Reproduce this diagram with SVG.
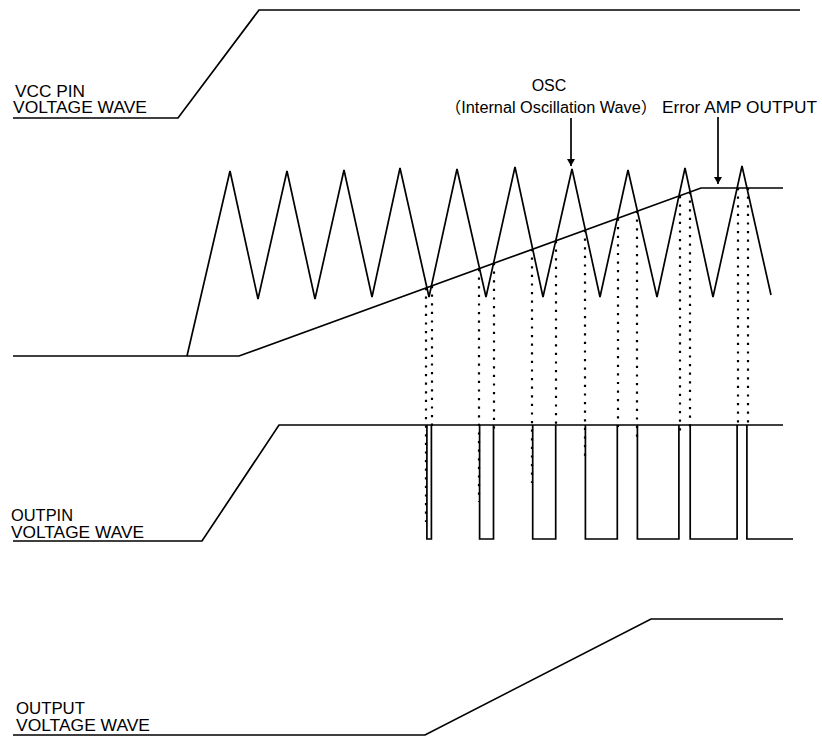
<svg xmlns="http://www.w3.org/2000/svg" width="822" height="736" viewBox="0 0 822 736">
<style>
.w{fill:none;stroke:#000;stroke-width:1.7;stroke-linejoin:miter}
.d{fill:none;stroke:#000;stroke-width:2.2;stroke-dasharray:2.2 6.4}
.t{font-family:"Liberation Sans",Arial,"Noto Sans CJK JP",sans-serif;font-size:16px;fill:#000}
</style>
<defs>
<marker id="ah" markerWidth="8" markerHeight="8" refX="7" refY="4" orient="auto" markerUnits="userSpaceOnUse" viewBox="0 0 8 8">
<path d="M0,0 L7,4 L0,8 Z" fill="#000"/>
</marker>
</defs>
<rect width="822" height="736" fill="#fff"/>
<g id="vcc">
<path class="w" d="M13,118 L178,118 L259,10 L800,10"/>
<text class="t" x="15" y="97" textLength="70" lengthAdjust="spacingAndGlyphs">VCC PIN</text>
<text class="t" x="13" y="113" textLength="134" lengthAdjust="spacingAndGlyphs">VOLTAGE WAVE</text>
</g>
<g id="osc">
<path class="w" d="M187,356 L230,171 L258,299 L287,171 L315,299 L344,170 L372,297 L400,168 L429,297 L457,169 L486,297 L515,167 L543,297 L572,169 L600,297 L628,170 L657,297 L685,168 L713,297 L742,166 L771,295"/>
<text class="t" x="549" y="91" text-anchor="middle">OSC</text>
<text class="t" x="445" y="113" textLength="212" lengthAdjust="spacingAndGlyphs">（Internal Oscillation Wave）</text>
</g>
<g id="erramp">
<path class="w" d="M13,356 L239,356 L701,188 L783,188"/>
<text class="t" x="662" y="113" textLength="155" lengthAdjust="spacingAndGlyphs">Error AMP OUTPUT</text>
</g>
<g id="outpin">
<path class="w" d="M13,541 L202,541 L279,425 L783,425"/>
<path class="w" d="M426.9,425 V539 H431.4 V425 M479.6,425 V539 H493.5 V425 M532.7,425 V539 H555.7 V425 M585.4,425 V539 H617.3 V425 M637.4,425 V539 H678.9 V425 M690.2,425 V539 H737.1 V425 M746.9,425 V539 H793"/>
<text class="t" x="11" y="521" textLength="62" lengthAdjust="spacingAndGlyphs">OUTPIN</text>
<text class="t" x="11" y="538" textLength="133" lengthAdjust="spacingAndGlyphs">VOLTAGE WAVE</text>
</g>
<g id="output">
<path class="w" d="M13,735 L425,735 L651,619 L783,619"/>
<text class="t" x="16" y="714" textLength="69" lengthAdjust="spacingAndGlyphs">OUTPUT</text>
<text class="t" x="16" y="731" textLength="134" lengthAdjust="spacingAndGlyphs">VOLTAGE WAVE</text>
</g>
<g id="connectors">
<line class="w" x1="571" y1="118" x2="571" y2="166" marker-end="url(#ah)"/>
<line class="w" x1="718" y1="117" x2="718" y2="184" marker-end="url(#ah)"/>
<path class="d" d="M426,288 V522 M432,286 V428 M479,269 V502 M494,263 V429 M532,249 V483 M556,241 V428 M585,230 V462 M618,218.5 V428 M637,211 V443 M680,196 V432 M690,192 V430 M738,188 V423 M748,188 V423"/>
</g>
</svg>
